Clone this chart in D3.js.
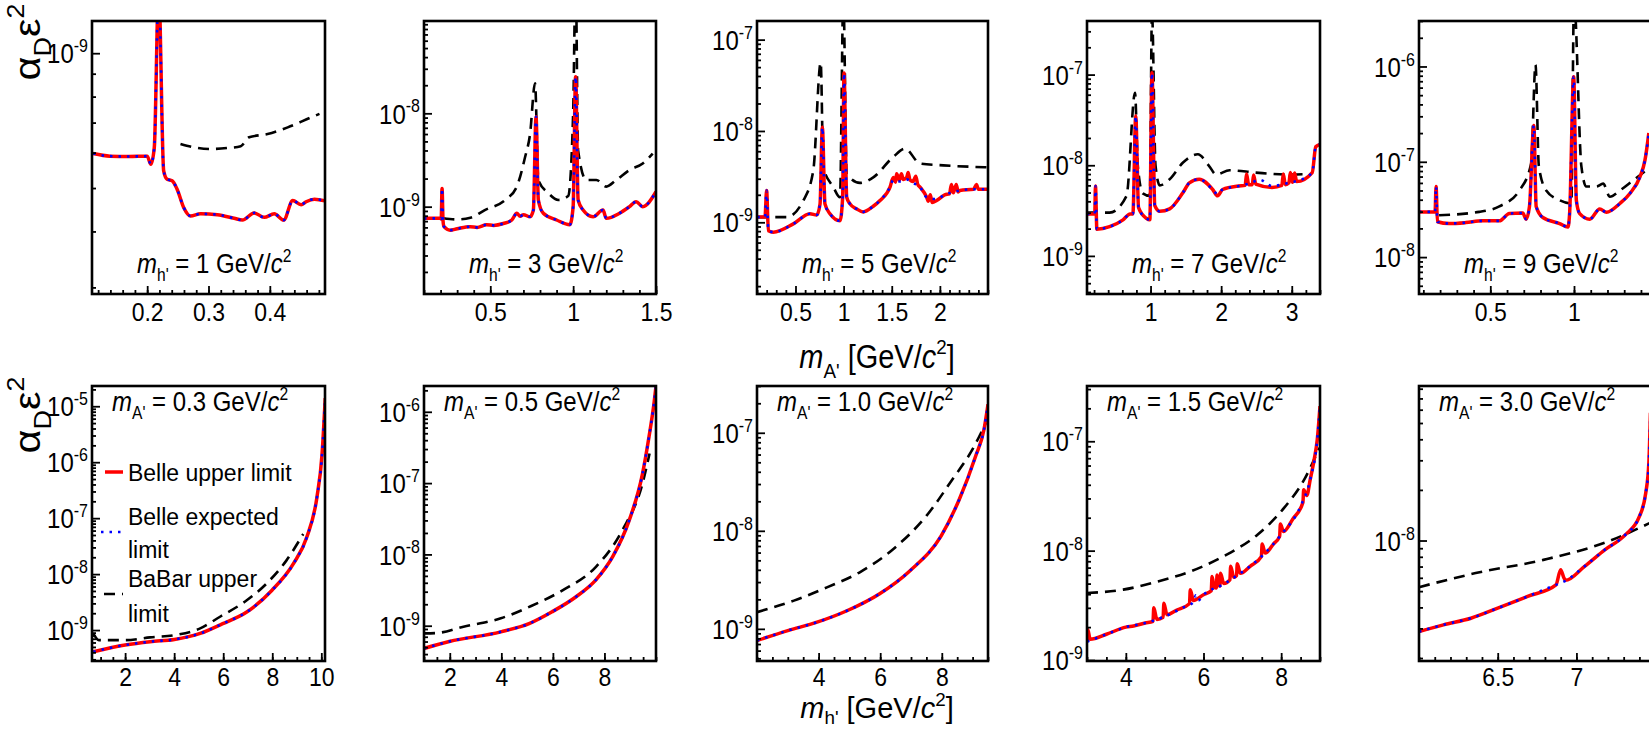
<!DOCTYPE html>
<html><head><meta charset="utf-8">
<script src="https://cdn.jsdelivr.net/npm/d3@7"></script>
<style>
body{margin:0;background:#fff;}
svg text{font-family:"Liberation Sans",Arial,Helvetica,sans-serif;fill:#000;}
</style></head><body>
<script>
// ---------------- DATA ----------------
// Top row: limits vs m_A' for fixed m_h'
const topMh = ["1","3","5","7","9"];
const t1Upper = [[0.112,5.97e-10],[0.1395,5.89e-10],[0.17,5.88e-10],[0.2,5.89e-10],[0.206,5.65e-10],[0.2116,6.16e-10],[0.2187,1.4e-9],[0.2269,5.46e-10],[0.2325,5.23e-10],[0.2407,5.19e-10],[0.2488,4.97e-10],[0.2597,4.52e-10],[0.2707,4.33e-10],[0.287,4.38e-10],[0.3144,4.36e-10],[0.3417,4.28e-10],[0.3554,4.24e-10],[0.3745,4.40e-10],[0.3908,4.30e-10],[0.4073,4.38e-10],[0.4226,4.24e-10],[0.4374,4.69e-10],[0.451,4.59e-10],[0.4592,4.66e-10],[0.4728,4.72e-10],[0.49,4.68e-10]];
const t1Expected = t1Upper;
const t1Babar = [[0.2543,6.27e-10],[0.28,6.15e-10],[0.3034,6.11e-10],[0.33,6.14e-10],[0.3526,6.2e-10],[0.3662,6.49e-10],[0.3964,6.6e-10],[0.4292,6.83e-10],[0.4674,7.19e-10],[0.481,7.32e-10]];

const t2Upper = [[0.1,7.5e-10],[0.197,7.5e-10],[0.204,7.4e-10],[0.209,1.57e-9],[0.215,7.0e-10],[0.221,6.1e-10],[0.257,5.6e-10],[0.3,5.8e-10],[0.378,6.1e-10],[0.42,6.0e-10],[0.478,6.4e-10],[0.52,6.3e-10],[0.579,6.6e-10],[0.63,7.2e-10],[0.66,8.5e-10],[0.68,7.9e-10],[0.7,8.2e-10],[0.74,7.8e-10],[0.76,9.2e-10],[0.776,9.2e-9],[0.79,1.18e-9],[0.82,8.5e-10],[0.9,7.2e-10],[0.98,6.4e-10],[1.0,1.0e-9],[1.015,2.47e-8],[1.03,1.18e-9],[1.06,9.2e-10],[1.12,7.8e-10],[1.18,9.2e-10],[1.2,7.5e-10],[1.28,8.5e-10],[1.34,1.0e-9],[1.38,1.13e-9],[1.42,1.0e-9],[1.5,1.45e-9]];
const t2Expected = t2Upper;
const t2Babar = [[0.217,7.5e-10],[0.3,7.3e-10],[0.38,7.6e-10],[0.467,9.2e-10],[0.59,1.18e-9],[0.66,1.64e-9],[0.71,3.4e-9],[0.74,6e-9],[0.77,2.1e-8],[0.79,1.93e-9],[0.85,1.4e-9],[0.91,1.18e-9],[0.97,1.3e-9],[1.0,1.0e-8],[1.015,3e-7],[1.03,4.0e-9],[1.08,1.93e-9],[1.14,1.93e-9],[1.2,1.64e-9],[1.26,1.93e-9],[1.34,2.47e-9],[1.42,2.9e-9],[1.48,3.7e-9]];

const t3Upper = [[0.103,1.14e-9],[0.183,1.14e-9],[0.2,2.23e-9],[0.218,8.1e-10],[0.27,7.8e-10],[0.477,9.6e-10],[0.65,1.24e-9],[0.72,1.2e-9],[0.755,1.59e-9],[0.779,1.1e-8],[0.806,1.59e-9],[0.858,1.24e-9],[0.962,1.04e-9],[0.99,1.88e-9],[1.004,4.3e-8],[1.032,1.88e-9],[1.066,1.59e-9],[1.136,1.4e-9],[1.204,1.3e-9],[1.308,1.5e-9],[1.378,1.73e-9],[1.482,2.43e-9],[1.516,3.1e-9],[1.54,2.75e-9],[1.55,3.4e-9],[1.58,2.9e-9],[1.6,3.4e-9],[1.62,2.95e-9],[1.655,3.1e-9],[1.67,3.5e-9],[1.69,2.9e-9],[1.72,2.8e-9],[1.75,3.2e-9],[1.77,2.6e-9],[1.794,2.43e-9],[1.863,1.88e-9],[1.88,1.7e-9],[1.9,2.0e-9],[1.92,1.65e-9],[1.967,1.73e-9],[2.05,2.0e-9],[2.1,2.05e-9],[2.12,2.6e-9],[2.14,2.1e-9],[2.17,2.6e-9],[2.19,2.15e-9],[2.209,2.23e-9],[2.35,2.3e-9],[2.38,2.6e-9],[2.4,2.3e-9],[2.503,2.3e-9]];
const t3Expected = [[0.103,1.14e-9],[0.183,1.14e-9],[0.2,2.23e-9],[0.218,8.1e-10],[0.27,7.8e-10],[0.477,9.6e-10],[0.65,1.24e-9],[0.72,1.2e-9],[0.755,1.59e-9],[0.779,1.1e-8],[0.806,1.59e-9],[0.858,1.24e-9],[0.962,1.04e-9],[0.99,1.88e-9],[1.004,4.3e-8],[1.032,1.88e-9],[1.066,1.59e-9],[1.136,1.4e-9],[1.204,1.3e-9],[1.308,1.5e-9],[1.378,1.73e-9],[1.482,2.43e-9],[1.516,2.9e-9],[1.58,2.8e-9],[1.655,2.95e-9],[1.72,2.7e-9],[1.794,2.43e-9],[1.863,1.88e-9],[1.967,1.8e-9],[2.05,2.0e-9],[2.209,2.23e-9],[2.35,2.3e-9],[2.503,2.3e-9]];
const t3Babar = [[0.103,1.14e-9],[0.408,1.14e-9],[0.581,1.73e-9],[0.685,3.7e-9],[0.762,5.6e-8],[0.789,4e-9],[0.893,2.43e-9],[0.962,1.88e-9],[0.997,3e-7],[1.032,3.4e-9],[1.17,2.7e-9],[1.308,3.1e-9],[1.516,5.2e-9],[1.638,6.4e-9],[1.794,4.4e-9],[2.036,4.2e-9],[2.486,4.0e-9]];

const t4Upper = [[0.1,2.9e-9],[0.21,2.9e-9],[0.22,5.9e-9],[0.24,1.97e-9],[0.42,2.1e-9],[0.61,2.5e-9],[0.71,2.9e-9],[0.75,2.9e-9],[0.79,3.5e-8],[0.83,3.4e-9],[0.94,2.6e-9],[0.99,2.5e-9],[1.02,1.05e-7],[1.06,3.6e-9],[1.13,3.1e-9],[1.27,3.3e-9],[1.46,5e-9],[1.55,6.4e-9],[1.69,7e-9],[1.88,5.4e-9],[1.95,4.6e-9],[2.02,5.4e-9],[2.25,5.9e-9],[2.34,6.0e-9],[2.36,8.0e-9],[2.39,6.1e-9],[2.44,6.1e-9],[2.46,7.8e-9],[2.49,6.2e-9],[2.72,5.7e-9],[2.86,6.0e-9],[2.88,8.0e-9],[2.91,6.1e-9],[2.96,6.4e-9],[2.98,8.3e-9],[3.01,6.5e-9],[3.04,8.2e-9],[3.07,6.6e-9],[3.29,8.3e-9],[3.34,1.6e-8],[3.4,1.7e-8]];
const t4Expected = [[0.1,2.9e-9],[0.21,2.9e-9],[0.22,5.9e-9],[0.24,1.97e-9],[0.42,2.1e-9],[0.61,2.5e-9],[0.71,2.9e-9],[0.75,2.9e-9],[0.79,3.5e-8],[0.83,3.4e-9],[0.94,2.6e-9],[0.99,2.5e-9],[1.02,1.05e-7],[1.06,3.6e-9],[1.13,3.1e-9],[1.27,3.3e-9],[1.46,5e-9],[1.55,6.4e-9],[1.69,7e-9],[1.88,5.4e-9],[1.95,4.8e-9],[2.02,5.4e-9],[2.25,5.9e-9],[2.4,6.3e-9],[2.55,6.9e-9],[2.72,5.9e-9],[2.96,6.4e-9],[3.1,6.8e-9],[3.29,8.3e-9],[3.34,1.6e-8],[3.4,1.7e-8]];
const t4Babar = [[0.1,3e-9],[0.42,3e-9],[0.66,4.6e-9],[0.78,6.3e-8],[0.82,9.8e-9],[0.89,4.9e-9],[0.99,4.6e-9],[1.02,5e-7],[1.07,1e-8],[1.13,6e-9],[1.27,7e-9],[1.46,1.07e-8],[1.67,1.32e-8],[1.83,9.8e-9],[1.93,7.9e-9],[2.12,8.8e-9],[2.49,8.3e-9],[2.96,7.9e-9],[3.25,8e-9]];

const t5Upper = [[0.074,2.98e-8],[0.17,2.98e-8],[0.176,5.5e-8],[0.184,2.35e-8],[0.254,2.25e-8],[0.354,2.3e-8],[0.454,2.4e-8],[0.554,2.4e-8],[0.614,2.86e-8],[0.694,2.9e-8],[0.714,2.5e-8],[0.734,3.4e-8],[0.76,2.4e-7],[0.774,3.4e-8],[0.814,2.6e-8],[0.914,2.25e-8],[0.964,2.07e-8],[0.974,2.9e-8],[0.998,7.8e-7],[1.014,3.95e-8],[1.034,2.86e-8],[1.094,2.5e-8],[1.154,3.2e-8],[1.194,2.95e-8],[1.274,3.65e-8],[1.334,4.65e-8],[1.394,6.95e-8],[1.424,1.04e-7],[1.447,2e-7]];
const t5Expected = t5Upper;
const t5Babar = [[0.194,2.75e-8],[0.434,2.98e-8],[0.554,3.4e-8],[0.674,5e-8],[0.744,9.6e-8],[0.77,1.04e-6],[0.79,9e-8],[0.834,5e-8],[0.914,3.95e-8],[0.984,3.65e-8],[1.0,5e-6],[1.044,9e-8],[1.074,5.5e-8],[1.134,5.5e-8],[1.174,5.9e-8],[1.214,4.3e-8],[1.274,5e-8],[1.354,6.4e-8],[1.434,8.2e-8]];

// Bottom row: limits vs m_h' for fixed m_A'
const botMa = ["0.3","0.5","1.0","1.5","3.0"];
const b1Upper = [[0.70,4.1e-10],[2.0,5.4e-10],[3.02,6.2e-10],[4.01,6.8e-10],[5.06,8.7e-10],[5.98,1.3e-9],[6.96,2.1e-9],[7.98,5.1e-9],[8.87,1.55e-8],[9.41,4.6e-8],[9.82,2.35e-7],[10.03,1.4e-6],[10.16,1.4e-5]];
const b1Expected = b1Upper;
const b1Babar = [[0.70,8.7e-10],[0.93,6.6e-10],[2.0,6.6e-10],[3.02,7.4e-10],[4.01,8.1e-10],[5.06,1.07e-9],[5.87,1.73e-9],[6.96,3.4e-9],[7.77,6.8e-9],[8.58,1.76e-8],[9.26,5.2e-8]];

const b2Upper = [[1.0,4.8e-10],[1.98,6.0e-10],[3.98,8.2e-10],[5.1,1.08e-9],[5.97,1.57e-9],[6.9,2.55e-9],[7.67,4.4e-9],[8.32,9.3e-9],[8.96,3.0e-8],[9.48,1.37e-7],[9.73,4.5e-7],[9.93,1.38e-6],[10.0,2.3e-6]];
const b2Expected = b2Upper;
const b2Babar = [[1.0,7.8e-10],[1.5,7.9e-10],[2.53,9.7e-10],[3.98,1.27e-9],[5.1,1.85e-9],[6.39,3.16e-9],[7.67,6.7e-9],[8.7,2.2e-8],[9.48,1.0e-7],[9.75,2.6e-7]];

const b3Upper = [[2.0,7.6e-10],[3.0,9.6e-10],[3.95,1.17e-9],[4.92,1.53e-9],[5.97,2.27e-9],[6.96,3.9e-9],[7.98,8.9e-9],[8.57,2.1e-8],[9.1,5.8e-8],[9.37,1.08e-7],[9.5,1.95e-7]];
const b3Expected = b3Upper;
const b3Babar = [[2.0,1.48e-9],[3.2,1.94e-9],[4.27,2.65e-9],[5.35,3.8e-9],[6.42,6.5e-9],[7.5,1.42e-8],[8.36,3.4e-8],[9.0,6.8e-8],[9.43,1.26e-7]];

const b4Upper = [[3.0,1.47e-9],[3.02,1.9e-9],[3.08,1.55e-9],[3.5,1.72e-9],[4.0,2.0e-9],[4.2,2.05e-9],[4.5,2.18e-9],[4.7,2.26e-9],[4.72,3.0e-9],[4.8,2.35e-9],[4.96,2.46e-9],[4.98,3.3e-9],[5.06,2.6e-9],[5.3,2.85e-9],[5.64,3.28e-9],[5.66,4.4e-9],[5.74,3.5e-9],[6.0,3.95e-9],[6.2,4.3e-9],[6.22,5.8e-9],[6.28,4.6e-9],[6.33,4.55e-9],[6.35,6.0e-9],[6.4,4.8e-9],[6.42,4.75e-9],[6.44,6.2e-9],[6.52,5.0e-9],[6.68,5.4e-9],[6.70,7.2e-9],[6.78,5.7e-9],[6.85,5.9e-9],[6.87,7.6e-9],[6.95,6.2e-9],[7.2,7.2e-9],[7.49,8.8e-9],[7.51,1.15e-8],[7.59,9.5e-9],[7.8,1.15e-8],[7.96,1.35e-8],[7.98,1.75e-8],[8.06,1.5e-8],[8.3,1.95e-8],[8.56,2.75e-8],[8.58,3.6e-8],[8.66,3.2e-8],[8.75,4.5e-8],[8.85,6.8e-8],[8.93,1.04e-7],[9.0,2.1e-7]];
const b4Expected = [[3.0,1.47e-9],[3.5,1.72e-9],[4.0,2.0e-9],[4.5,2.18e-9],[5.0,2.5e-9],[5.5,3.05e-9],[5.75,3.4e-9],[5.8,3.9e-9],[5.86,3.5e-9],[6.0,3.95e-9],[6.5,4.9e-9],[7.0,6.4e-9],[7.5,8.9e-9],[8.0,1.4e-8],[8.5,2.55e-8],[8.75,4.5e-8],[8.93,1.04e-7],[9.0,2.1e-7]];
const b4Babar = [[3.0,4.1e-9],[3.93,4.4e-9],[4.8,5.2e-9],[5.66,6.45e-9],[6.52,8.9e-9],[7.39,1.4e-8],[8.08,2.47e-8],[8.6,4.5e-8],[8.98,8.7e-8]];

const b5Upper = [[6.0,2.87e-9],[6.155,3.15e-9],[6.33,3.45e-9],[6.5,3.96e-9],[6.69,4.65e-9],[6.87,5.45e-9],[6.9,6.7e-9],[6.92,6.0e-9],[6.93,5.8e-9],[7.05,7.0e-9],[7.18,8.8e-9],[7.31,1.08e-8],[7.4,1.39e-8],[7.44,1.91e-8],[7.46,2.9e-8],[7.47,5.75e-8]];
const b5Expected = [[6.0,2.87e-9],[6.155,3.15e-9],[6.33,3.45e-9],[6.5,3.96e-9],[6.69,4.65e-9],[6.87,5.45e-9],[6.93,5.75e-9],[7.05,7.0e-9],[7.18,8.8e-9],[7.31,1.08e-8],[7.4,1.39e-8],[7.44,1.91e-8],[7.46,2.9e-8],[7.47,5.75e-8]];
const b5Babar = [[6.0,5.28e-9],[6.36,6.4e-9],[6.79,7.67e-9],[7.2,9.86e-9],[7.48,1.29e-8]];

// Axis ticks / domains
const xDomains = [[0.11,0.49],[0.1,1.5],[0.1,2.5],[0.1,3.4],[0.074,1.466],[0.65,10.15],[1.0,10.0],[2.0,9.5],[3.0,9.0],[6.0,7.48]];
const yDomains = [[2.9e-10,1.18e-9],[1.16e-10,9.75e-8],[1.64e-10,1.6e-7],[3.8e-10,3.9e-7],[4.1e-9,3e-6],[2.8e-10,2.3e-5],[3.2e-10,2.3e-6],[4.7e-10,3e-7],[9.8e-10,3.2e-7],[1.92e-9,8.3e-8]];
const xTickLabels = [[0.2,0.3,0.4],[0.5,1,1.5],[0.5,1,1.5,2],[1,2,3],[0.5,1],[2,4,6,8,10],[2,4,6,8],[4,6,8],[4,6,8],[6.5,7]];
const xMinorSteps = [0.02,0.1,0.1,0.2,0.1,0.5,0.5,0.5,0.5,0.1];
const yTickLabels = [[1e-9],[1e-9,1e-8],[1e-9,1e-8,1e-7],[1e-9,1e-8,1e-7],[1e-8,1e-7,1e-6],[1e-9,1e-8,1e-7,1e-6,1e-5],[1e-9,1e-8,1e-7,1e-6],[1e-9,1e-8,1e-7],[1e-9,1e-8,1e-7],[1e-8]];
const legendLabels = [["Belle upper limit"],["Belle expected","limit"],["BaBar upper","limit"]];

const seriesUpper = [t1Upper,t2Upper,t3Upper,t4Upper,t5Upper,b1Upper,b2Upper,b3Upper,b4Upper,b5Upper];
const seriesExpected = [t1Expected,t2Expected,t3Expected,t4Expected,t5Expected,b1Expected,b2Expected,b3Expected,b4Expected,b5Expected];
const seriesBabar = [t1Babar,t2Babar,t3Babar,t4Babar,t5Babar,b1Babar,b2Babar,b3Babar,b4Babar,b5Babar];

// ---------------- LAYOUT ----------------
const W = 1649, H = 729;
const colX = [[92,325],[424,656],[757,988],[1087,1320],[1419,1652]];
const rowY = [[21,294],[386,661]];
const S = 1.12; // vertical text stretch of the original figure

const svg = d3.select('body').append('svg').attr('width',W).attr('height',H);
const defs = svg.append('defs');

function rich(t, parts, size, subShift){
  const sub = subShift===undefined ? 0.3 : subShift;
  let shift = 0;
  parts.forEach(([s,k])=>{
    const ts = t.append('tspan').text(s);
    let target = 0, fs = size;
    if(k==='sub'){ target = sub*size; fs = size*0.65; }
    if(k==='sup'){ target = -0.42*size; fs = size*0.65; }
    if(k==='i') ts.attr('font-style','italic');
    ts.attr('font-size',fs).attr('dy',target-shift);
    shift = target;
  });
}
function stretch(sel, s){
  const k = s===undefined ? S : s;
  sel.each(function(){
    const t = d3.select(this);
    const x = +(t.attr('x')||0), y = +(t.attr('y')||0);
    t.attr('x',0).attr('y',0).attr('transform',`translate(${x},${y}) scale(1,${k})`);
  });
}

for(let i=0;i<10;i++){
  const row = i<5?0:1, col = i%5;
  const [x0,x1] = colX[col], [y0,y1] = rowY[row];
  const x = d3.scaleLinear().domain(xDomains[i]).range([x0,x1]);
  const y = d3.scaleLog().domain(yDomains[i]).range([y1,y0]);
  const g = svg.append('g');
  defs.append('clipPath').attr('id','c'+i).append('rect')
    .attr('x',x0).attr('y',y0).attr('width',x1-x0).attr('height',y1-y0);
  const line = d3.line().x(d=>x(d[0])).y(d=>y(d[1])).curve(d3.curveMonotoneX);
  const lg = g.append('g').attr('clip-path',`url(#c${i})`);
  lg.append('path').datum(seriesBabar[i]).attr('d',line).attr('fill','none')
    .attr('stroke','#000').attr('stroke-width',2.6).attr('stroke-dasharray','11,7');
  lg.append('path').datum(seriesUpper[i]).attr('d',line).attr('fill','none')
    .attr('stroke','#ff0000').attr('stroke-width',3.5).attr('stroke-linejoin','round');
  lg.append('path').datum(seriesExpected[i]).attr('d',line).attr('fill','none')
    .attr('stroke','#0000ff').attr('stroke-width',2.6).attr('stroke-dasharray','2.5,6');

  const xa = g.append('g').attr('transform',`translate(0,${y1})`)
    .call(d3.axisBottom(x).tickValues(xTickLabels[i]).tickSizeInner(-8).tickSizeOuter(0).tickPadding(row===0?9:7).tickFormat(d=>String(d)));
  const dom = xDomains[i];
  const minors = d3.range(Math.ceil(dom[0]/xMinorSteps[i]-1e-6)*xMinorSteps[i], dom[1]+1e-9, xMinorSteps[i]);
  const xm = g.append('g').attr('transform',`translate(0,${y1})`)
    .call(d3.axisBottom(x).tickValues(minors).tickSizeInner(-4).tickSizeOuter(0).tickFormat(''));
  const ya = g.append('g').attr('transform',`translate(${x0},0)`)
    .call(d3.axisLeft(y).tickValues(yTickLabels[i]).tickSizeInner(-8).tickSizeOuter(0).tickPadding(4));
  const ydom = yDomains[i];
  const yminors = [];
  for(let e=-11;e<=-4;e++) for(let m=2;m<=9;m++){ const v=m*Math.pow(10,e); if(v>=ydom[0]&&v<=ydom[1]) yminors.push(v); }
  const ym = g.append('g').attr('transform',`translate(${x0},0)`)
    .call(d3.axisLeft(y).tickValues(yminors).tickSizeInner(-4).tickSizeOuter(0).tickFormat(''));
  [xa,xm,ya,ym].forEach(a=>{ a.attr('font-size',null).attr('font-family',null); a.select('.domain').remove(); a.selectAll('line').attr('stroke','#000').attr('stroke-width',1.8); });
  xa.selectAll('.tick text').attr('font-size',23);
  stretch(xa.selectAll('.tick text'));
  ya.selectAll('.tick text').each(function(d){
    const t = d3.select(this); t.text(''); t.attr('font-size',24).attr('dy','0.36em');
    t.append('tspan').text('10');
    t.append('tspan').text(String(Math.round(Math.log10(d)))).attr('font-size',16).attr('dy','-0.62em');
  });
  stretch(ya.selectAll('.tick text'));
  g.append('rect').attr('x',x0).attr('y',y0).attr('width',x1-x0).attr('height',y1-y0)
    .attr('fill','none').attr('stroke','#000').attr('stroke-width',2.6);
  let t;
  if(row===0){
    t = g.append('text').attr('x',x0+45).attr('y',273);
    rich(t,[['m','i'],["h'",'sub'],[' = '+topMh[col]+' GeV/','n'],['c','i'],['2','sup']],24);
  } else {
    t = g.append('text').attr('x',x0+20).attr('y',411);
    rich(t,[['m','i'],["A'",'sub'],[' = '+botMa[col]+' GeV/','n'],['c','i'],['2','sup']],24);
  }
  stretch(t);
}

// y titles (rotated)
[[40,42],[40,415]].forEach(([tx,ty])=>{
  const t = svg.append('text').attr('transform',`translate(${tx},${ty}) scale(1,${S}) rotate(-90)`).attr('text-anchor','middle');
  rich(t,[['α','n'],['D','sub'],['ε','n'],['2','sup']],37);
});
// x titles
{
  const t = svg.append('text').attr('x',877).attr('y',368).attr('text-anchor','middle');
  rich(t,[['m','i'],["A'",'sub'],[' [GeV/','n'],['c','i'],['2','sup'],[']','n']],29);
  stretch(t);
  const t2 = svg.append('text').attr('x',877).attr('y',718).attr('text-anchor','middle');
  rich(t2,[['m','i'],["h'",'sub'],[' [GeV/','n'],['c','i'],['2','sup'],[']','n']],29,0.22);
}
// legend (bottom-left panel)
{
  const lg = svg.append('g');
  const styles = [{c:'#ff0000',w:3.5,d:null,y:472,x0:105},{c:'#0000ff',w:2.6,d:'2.5,6',y:532,x0:101},{c:'#000',w:2.6,d:'11,7',y:594,x0:104}];
  const baselines = [[481],[525,558],[587,622]];
  legendLabels.forEach((lines,k)=>{
    const s = styles[k];
    lg.append('line').attr('x1',s.x0).attr('x2',123).attr('y1',s.y).attr('y2',s.y)
      .attr('stroke',s.c).attr('stroke-width',s.w).attr('stroke-dasharray',s.d);
    lines.forEach((txt,j)=>{
      const tt = lg.append('text').attr('x',128).attr('y',baselines[k][j]).attr('font-size',23).text(txt);
      stretch(tt, 1.08);
    });
  });
}
</script>
</body></html>
